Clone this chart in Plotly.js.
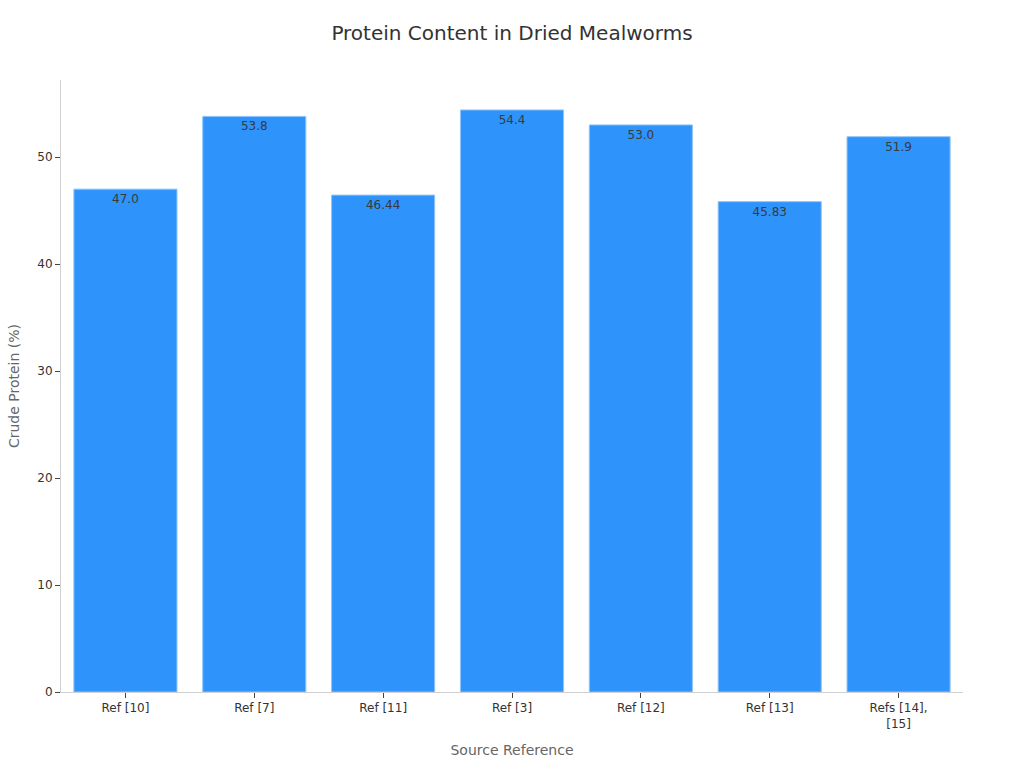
<!DOCTYPE html>
<html>
<head>
<meta charset="utf-8">
<script src="https://cdn.plot.ly/plotly-3.0.1.min.js"></script>
<style>html,body{margin:0;padding:0;background:#fff;}#chart{width:1024px;height:768px;}</style>
</head>
<body>
<div id="chart"></div>
<script>
const categories = ["Ref [10]", "Ref [7]", "Ref [11]", "Ref [3]", "Ref [12]", "Ref [13]", "Refs [14],<br>[15]"];
const proteinValues = [47.0, 53.8, 46.44, 54.4, 53.0, 45.83, 51.9];
const valueLabels = ["47.0", "53.8", "46.44", "54.4", "53.0", "45.83", "51.9"];

const trace = {
  type: "bar",
  x: categories,
  y: proteinValues,
  text: valueLabels,
  textposition: "inside",
  insidetextanchor: "end",
  textangle: 0,
  textfont: {family: "DejaVu Sans", size: 12, color: "#3a3a3a"},
  marker: {color: "#2E93FA", line: {color: "#8FC4F7", width: 1}},
  hoverinfo: "x+y"
};

const layout = {
  width: 1024,
  height: 768,
  margin: {l: 61, r: 61, t: 80, b: 76},
  paper_bgcolor: "#ffffff",
  plot_bgcolor: "#ffffff",
  font: {family: "DejaVu Sans", color: "#333333", size: 12},
  title: {text: "Protein Content in Dried Mealworms", font: {family: "DejaVu Sans", size: 20, color: "#333333"}, x: 0.5, xanchor: "center", y: 0.957, yanchor: "middle"},
  bargap: 0.2,
  showlegend: false,
  xaxis: {
    title: {text: "Source Reference", font: {size: 14, color: "#666666"}, standoff: 15},
    showline: true, linecolor: "#d0d0d0", linewidth: 1,
    ticks: "outside", ticklen: 5, tickcolor: "#444444",
    tickfont: {size: 12, color: "#333333"},
    showgrid: false, zeroline: false
  },
  yaxis: {
    title: {text: "Crude Protein (%)", font: {size: 14, color: "#666666"}, standoff: 14},
    range: [0, 57.2],
    dtick: 10,
    showline: true, linecolor: "#d0d0d0", linewidth: 1,
    ticks: "outside", ticklen: 5, tickcolor: "#444444",
    tickfont: {size: 12, color: "#333333"},
    showgrid: false, zeroline: false
  }
};

Plotly.newPlot("chart", [trace], layout, {displayModeBar: false, responsive: false});
</script>
</body>
</html>
